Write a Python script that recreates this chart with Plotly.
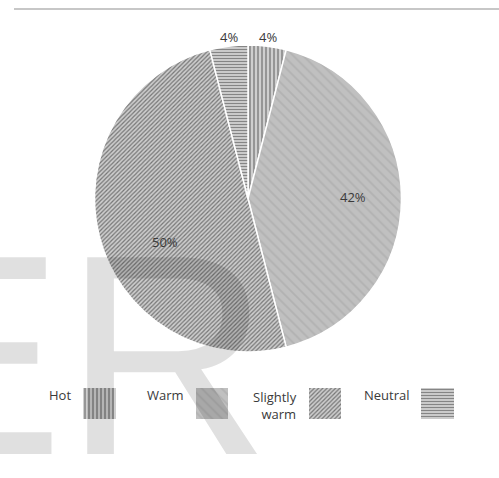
import plotly.graph_objects as go

# Thermal sensation votes
categories = ["Hot", "Warm", "Slightly warm", "Neutral"]
shares = [4, 42, 50, 4]
legend_labels = ["Hot", "Warm", "Slightly<br>warm", "Neutral"]

W, H = 499, 478

# hatch styles per category
patterns = [
    dict(shape="|", bgcolor="#cfcfcf", fgcolor="#7e7e7e", size=4, solidity=0.35),
    dict(shape="\\", bgcolor="#c0c0c0", fgcolor="#b2b2b2", size=7, solidity=0.25),
    dict(shape="/", bgcolor="#cdcdcd", fgcolor="#767676", size=3, solidity=0.4),
    dict(shape="-", bgcolor="#d2d2d2", fgcolor="#858585", size=3, solidity=0.4),
]

# where each percentage label sits (paper fractions)
label_xy = [(268 / W, 1 - 37 / H), (353 / W, 1 - 197 / H),
            (165 / W, 1 - 242 / H), (229 / W, 1 - 37 / H)]

fig = go.Figure()

fig.add_trace(go.Pie(
    labels=categories,
    values=shares,
    sort=False,
    direction="clockwise",
    rotation=0,
    textinfo="none",
    marker=dict(
        colors=[p["bgcolor"] for p in patterns],
        line=dict(color="white", width=1.5),
        pattern=dict(
            shape=[p["shape"] for p in patterns],
            bgcolor=[p["bgcolor"] for p in patterns],
            fgcolor=[p["fgcolor"] for p in patterns],
            size=[p["size"] for p in patterns],
            solidity=[p["solidity"] for p in patterns],
            fillmode="replace",
        ),
    ),
    domain=dict(x=[94 / W, 402 / W], y=[1 - 352 / H, 1 - 45 / H]),
    showlegend=False,
    hoverinfo="label+percent",
))

# legend swatches, drawn as hatched bars on a small hidden axis
for cat, p in zip(categories, patterns):
    fig.add_trace(go.Bar(
        x=[cat], y=[1], width=0.29,
        marker=dict(color=p["bgcolor"], line=dict(width=0),
                    pattern=dict(shape=p["shape"], bgcolor=p["bgcolor"],
                                 fgcolor=p["fgcolor"], size=p["size"],
                                 solidity=p["solidity"], fillmode="replace")),
        showlegend=False, hoverinfo="skip",
    ))

label_font = dict(family="Open Sans", size=13, color="#3a3a3a")

annotations = []
for v, (lx, ly) in zip(shares, label_xy):
    annotations.append(dict(
        x=lx, y=ly, xref="paper", yref="paper", text=f"{v}%",
        showarrow=False, xanchor="center", yanchor="middle", font=label_font,
    ))

for cat, lab in zip(categories, legend_labels):
    two_lines = "<br>" in lab
    annotations.append(dict(
        x=cat, xref="x", y=1 - 395 / H, yref="paper",
        text=lab, showarrow=False, xanchor="right",
        yanchor="top" if two_lines else "middle",
        yshift=9 if two_lines else 0,
        xshift=-26, align="right", font=label_font,
    ))

# faint background lettering
annotations.append(dict(
    x=-129 / W, y=1 - 517 / H, xref="paper", yref="paper",
    text="ER", showarrow=False, xanchor="left", yanchor="bottom",
    font=dict(family="Liberation Sans", size=286, color="rgba(0,0,0,0.12)"),
))

fig.update_layout(
    width=W, height=H,
    margin=dict(l=0, r=0, t=0, b=0),
    paper_bgcolor="white",
    plot_bgcolor="rgba(0,0,0,0)",
    bargap=0,
    xaxis=dict(domain=[43 / W, 494 / W], visible=False, fixedrange=True),
    yaxis=dict(domain=[1 - 419 / H, 1 - 388 / H], range=[0, 1], visible=False, fixedrange=True),
    annotations=annotations,
    shapes=[dict(type="line", xref="paper", yref="paper",
                 x0=14 / W, x1=1, y0=1 - 9 / H, y1=1 - 9 / H,
                 line=dict(color="#b4b4b4", width=1.5))],
)

fig.write_html("out.html")
